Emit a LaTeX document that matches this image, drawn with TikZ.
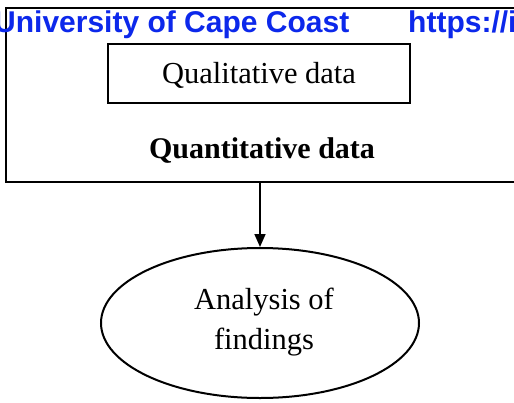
\documentclass[tikz,border=0pt]{standalone}
\usepackage{fontspec}
\setmainfont{Liberation Serif}
\newfontfamily\headfont{Liberation Sans}
\usetikzlibrary{shapes.geometric,arrows.meta}
\definecolor{headblue}{RGB}{12,40,235}
\tikzset{
  boxline/.style={draw=black, line width=2pt},
  headtext/.style={font=\headfont\bfseries\fontsize{30}{34}\selectfont, text=headblue, inner sep=0pt, anchor=base west},
  bodytext/.style={font=\fontsize{30.5}{40}\selectfont, inner sep=0pt},
}
\begin{document}
\begin{tikzpicture}[x=1pt,y=-1pt]
\useasboundingbox (0,0) rectangle (514,402);
\fill[white] (0,0) rectangle (514,402);
% outer box (runs past right edge)
\draw[boxline] (520,8) -- (6,8) -- (6,182) -- (520,182);
\coordinate (outerbot) at (260,182);
% inner box
\node[boxline, minimum width=302pt, minimum height=59pt, inner sep=0pt] (qual) at (259,73.5) {};
\node[bodytext] (qualt) at (259,75) {Qualitative data};
\node[bodytext, font=\bfseries\fontsize{30}{34}\selectfont] (quant) at (262,151) {Quantitative data};
% ellipse
\node[ellipse, boxline, minimum width=318pt, minimum height=150pt, inner sep=0pt] (anal) at (260,323) {};
\node[bodytext, align=center] (analt) at (264,322) {Analysis of\\findings};
\draw[line width=1.6pt, -{Triangle[length=13pt,width=11pt]}] (outerbot) -- (outerbot |- anal.north);
% header
\node[headtext] (h1) at (-6,32) {University of Cape Coast};
\node[headtext] (h2) at (408,32) {https://i};
\end{tikzpicture}
\end{document}
